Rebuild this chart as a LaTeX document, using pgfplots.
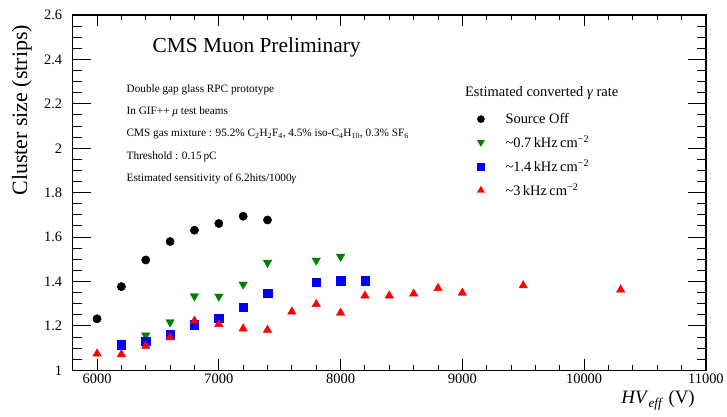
\documentclass[border=0pt]{standalone}
\usepackage{fontspec}
\setmainfont{Liberation Serif}
\usepackage{pgfplots}
\pgfplotsset{compat=1.18}
\definecolor{rgreen}{RGB}{0,128,0}
\definecolor{rblue}{RGB}{0,0,255}
\definecolor{rred}{RGB}{255,0,0}
\pgfplotstableread{
x y
6000 1.232
6200 1.377
6400 1.497
6600 1.580
6800 1.631
7000 1.661
7200 1.694
7400 1.677
}\srcoff
\pgfplotstableread{
x y
6200 1.125
6400 1.158
6600 1.217
6800 1.334
7000 1.333
7200 1.387
7400 1.485
7800 1.495
8000 1.512
}\lowrate
\pgfplotstableread{
x y
6200 1.116
6400 1.130
6600 1.160
6800 1.205
7000 1.236
7200 1.284
7400 1.348
7800 1.397
8000 1.403
8200 1.403
}\midrate
\pgfplotstableread{
x y
6000 1.075
6200 1.072
6400 1.110
6600 1.148
6800 1.223
7000 1.208
7200 1.188
7400 1.182
7600 1.264
7800 1.298
8000 1.259
8200 1.336
8400 1.336
8600 1.345
8800 1.370
9000 1.349
9500 1.382
10300 1.363
}\highrate
\begin{document}
\begin{tikzpicture}
\pgfplotsset{
  base/.style={
    scale only axis, width=636pt, height=357pt,
    xmin=5800, xmax=11000, ymin=1, ymax=2.6,
    axis line style={line width=1.3pt},
    tick style={line width=1pt, black},
    tick align=inside,
    scaled x ticks=false, scaled y ticks=false,
    /pgf/number format/assume math mode=true,
    /pgf/number format/1000 sep={},
    ticklabel style={font=\fontsize{14.5}{14.5}\selectfont},
  }
}
\begin{axis}[base,
  xtick={6000,7000,8000,9000,10000,11000},
  minor x tick num=4,
  ytick=\empty,
  major tick length=11pt, minor tick length=5.5pt,
  legend style={draw=none, fill=none, at={(axis description cs:0.626,0.735)}, anchor=north west,
    font=\fontsize{14.5}{14.5}\selectfont, row sep=6.7pt},
  legend cell align=left,
  legend image code/.code={%
    \draw[#1, every mark/.append style={scale=0.85}] plot coordinates {(8.5pt,0pt)};
    \path (0pt,0pt) (31pt,0pt);},
]
\addplot[only marks, mark=*, mark size=4.2pt, black] table {\srcoff};
\addlegendentry{Source Off}
\addplot[only marks, mark=triangle*, mark size=4.9pt, mark options={rotate=180}, rgreen] table {\lowrate};
\addlegendentry{\textasciitilde 0.7\,kHz\,cm\textsuperscript{−2}}
\addplot[only marks, mark=square*, mark size=4.2pt, rblue] table {\midrate};
\addlegendentry{\textasciitilde 1.4\,kHz\,cm\textsuperscript{−2}}
\addplot[only marks, mark=triangle*, mark size=4.9pt, rred] table {\highrate};
\addlegendentry{\textasciitilde 3\,kHz\,cm\textsuperscript{−2}}
\end{axis}
\begin{axis}[base,
  xtick=\empty,
  ytick={1,1.2,1.4,1.6,1.8,2,2.2,2.4,2.6},
  minor y tick num=3,
  major tick length=18pt, minor tick length=9pt,
  yticklabel style={xshift=-7pt},
]
\end{axis}
\path[use as bounding box] (-73pt,-46pt) rectangle (654pt,372pt);
\node[anchor=west, inner sep=0pt, font=\fontsize{21.5}{21.5}\selectfont] at (80pt,324pt) {CMS Muon Preliminary};
\begin{scope}[every node/.style={anchor=west, inner sep=0pt, font=\fontsize{11.3}{11.3}\selectfont}]
\node at (54pt,282pt) {Double gap glass RPC prototype};
\node at (54pt,260pt) {In GIF++ \textit{μ} test beams};
\node at (54pt,237pt) {CMS gas mixture : 95.2\% C\textsubscript{2}H\textsubscript{2}F\textsubscript{4}, 4.5\% iso-C\textsubscript{4}H\textsubscript{10}, 0.3\% SF\textsubscript{6}};
\node at (54pt,215pt) {Threshold : 0.15\,pC};
\node at (54pt,192pt) {Estimated sensitivity of 6.2hits/1000\textit{γ}};
\end{scope}
\node[anchor=west, inner sep=0pt, font=\fontsize{14.5}{14.5}\selectfont] at (394pt,279pt) {Estimated converted \textit{γ} rate};
\node[rotate=90, anchor=east, inner sep=0pt, font=\fontsize{22}{22}\selectfont] at (-51pt,347pt) {Cluster size (strips)};
\node[anchor=east, inner sep=0pt, font=\fontsize{19}{19}\selectfont] at (625pt,-30pt) {\textit{HV}\textsubscript{\textit{eff}} (V)};
\end{tikzpicture}
\end{document}
